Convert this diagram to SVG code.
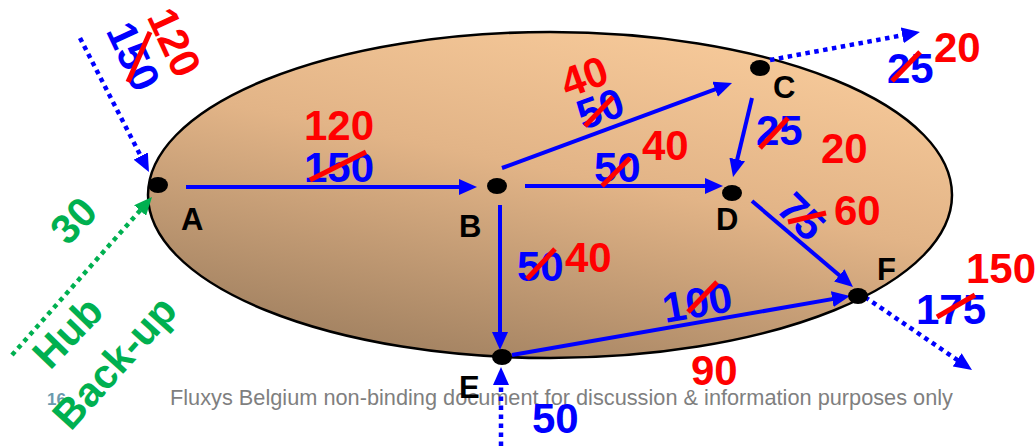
<svg xmlns="http://www.w3.org/2000/svg" width="1036" height="446" viewBox="0 0 1036 446">
<defs>
<linearGradient id="bg" x1="0.78" y1="0" x2="0.28" y2="1">
<stop offset="0" stop-color="#F8CB9B"/>
<stop offset="0.45" stop-color="#E2B487"/>
<stop offset="1" stop-color="#A08060"/>
</linearGradient>
<marker id="ah" markerWidth="18" markerHeight="16" refX="10" refY="8" orient="auto" markerUnits="userSpaceOnUse">
<path d="M0,0 L18,8 L0,16 z" fill="#0000FF"/>
</marker>
<marker id="ahg" markerWidth="18" markerHeight="16" refX="10" refY="8" orient="auto" markerUnits="userSpaceOnUse">
<path d="M0,0 L18,8 L0,16 z" fill="#00B050"/>
</marker>
<style>
.flow{stroke:#0000FF;stroke-width:4;fill:none;marker-end:url(#ah)}
.dot{stroke:#0000FF;stroke-width:4.5;fill:none;stroke-dasharray:4.5 4.5;marker-end:url(#ah)}
.gdot{stroke:#00B050;stroke-width:4.5;fill:none;stroke-dasharray:4.5 4.5;marker-end:url(#ahg)}
.n{fill:#000}
.lbl{font-family:"Liberation Sans",Arial,sans-serif;font-weight:bold;font-size:31px;fill:#000}
.num{font-family:"Liberation Sans",Arial,sans-serif;font-weight:bold;font-size:42px}
.b{fill:#0000FF}
.r{fill:#FF0000}
.g{fill:#00B050;font-family:"Liberation Sans",Arial,sans-serif;font-weight:bold;font-size:41px}
.st{stroke:#FF0000;stroke-width:5}
.foot{font-family:"Liberation Sans",Arial,sans-serif;font-size:21.5px;fill:#7F7F7F}
</style>
</defs>
<ellipse id="region" cx="550" cy="195" rx="402" ry="163" fill="url(#bg)" stroke="#000" stroke-width="2.5"/>
<text class="foot" x="170" y="405" textLength="783" lengthAdjust="spacingAndGlyphs">Fluxys Belgium non-binding document for discussion &amp; information purposes only</text>
<text x="47" y="405" font-family="Liberation Sans,Arial,sans-serif" font-weight="bold" font-size="17" fill="#6A9AAE">16</text>
<g id="connectors">
<path class="flow" d="M186,187 L469,187"/>
<path class="flow" d="M502,168 L724.5,85.8"/>
<path class="flow" d="M525,186 L715,186"/>
<path class="flow" d="M752,98 L734.9,169.2"/>
<path class="flow" d="M752,201 L846.9,281.8"/>
<path class="flow" d="M512,355 L842.1,297.4"/>
<path class="flow" d="M500,205 L500,342"/>
<path class="dot" d="M80,38 L145.3,164.9"/>
<path class="gdot" d="M12,355 L146.7,203"/>
<path class="dot" d="M770,60 L912.1,33.5"/>
<path class="dot" d="M865,297 L965.4,365.5"/>
<path class="dot" d="M501,446 L501,375"/>
</g>
<g id="node-A"><ellipse class="n" cx="158" cy="185" rx="10" ry="8"/><text class="lbl" x="181" y="230">A</text></g>
<g id="node-B"><ellipse class="n" cx="497" cy="186" rx="10" ry="8"/><text class="lbl" x="459" y="237">B</text></g>
<g id="node-C"><ellipse class="n" cx="760" cy="68" rx="10" ry="8"/><text class="lbl" x="773" y="98">C</text></g>
<g id="node-D"><ellipse class="n" cx="732" cy="193" rx="10" ry="8"/><text class="lbl" x="716" y="230">D</text></g>
<g id="node-E"><ellipse class="n" cx="502" cy="357" rx="10" ry="8"/><text class="lbl" x="459" y="398">E</text></g>
<g id="node-F"><ellipse class="n" cx="858" cy="296" rx="10" ry="8"/><text class="lbl" x="877" y="280">F</text></g>
<g id="labels">
<text class="num b" text-anchor="middle" dy="0.36em" transform="translate(134,56) rotate(65)">150</text>
<text class="num r" text-anchor="middle" dy="0.36em" transform="translate(175,42) rotate(65)">120</text>
<line class="st" x1="128" y1="82" x2="150" y2="32"/>
<text class="num r" x="304" y="140">120</text>
<text class="num b" x="304" y="182">150</text>
<line class="st" x1="310" y1="180" x2="366" y2="152"/>
<text class="num r" text-anchor="middle" dy="0.36em" transform="translate(584,76) rotate(-20)">40</text>
<text class="num b" text-anchor="middle" dy="0.36em" transform="translate(600,108) rotate(-20)">50</text>
<line class="st" x1="585" y1="126" x2="613" y2="97"/>
<text class="num b" x="594" y="182">50</text>
<line class="st" x1="602" y1="186" x2="630" y2="158"/>
<text class="num r" x="642" y="160">40</text>
<text class="num b" x="756" y="145">25</text>
<line class="st" x1="760" y1="148" x2="788" y2="118"/>
<text class="num r" x="821" y="163">20</text>
<text class="num b" x="887" y="83">25</text>
<line class="st" x1="892" y1="81" x2="920" y2="52"/>
<text class="num r" x="934" y="62">20</text>
<text class="num b" text-anchor="middle" dy="0.36em" transform="translate(802,216) rotate(45)">75</text>
<line class="st" x1="788" y1="222" x2="826" y2="213"/>
<text class="num r" x="834" y="225">60</text>
<text class="num r" x="966" y="283">150</text>
<text class="num b" x="916" y="324">175</text>
<line class="st" x1="937" y1="317" x2="975" y2="295"/>
<text class="num b" x="517" y="281">50</text>
<line class="st" x1="527" y1="279" x2="555" y2="249"/>
<text class="num r" x="565" y="272">40</text>
<text class="num b" text-anchor="middle" dy="0.36em" transform="translate(697,302) rotate(-10)">100</text>
<line class="st" x1="688" y1="312" x2="717" y2="282"/>
<text class="num r" x="691" y="385">90</text>
<text class="num b" x="532" y="433">50</text>
<text class="g" text-anchor="middle" dy="0.36em" transform="translate(73,220) rotate(-46)">30</text>
<text class="g" text-anchor="middle" dy="0.36em" transform="translate(67,332) rotate(-46)">Hub</text>
<text class="g" text-anchor="middle" dy="0.36em" transform="translate(114,362) rotate(-48)">Back-up</text>
</g>
</svg>
